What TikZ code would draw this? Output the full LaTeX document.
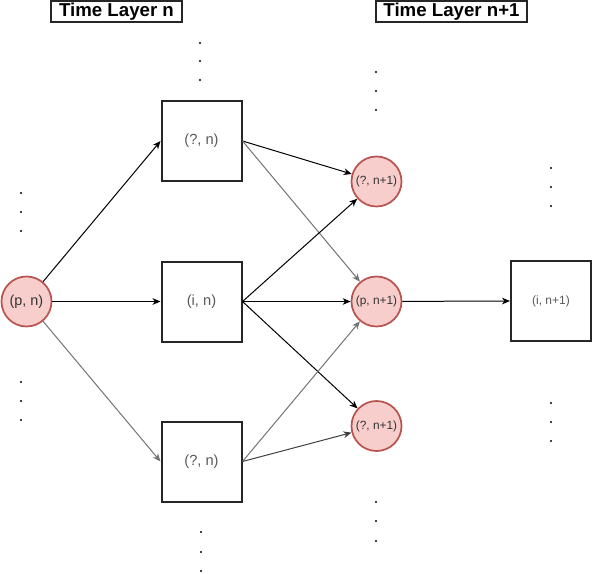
\documentclass[tikz,border=0pt]{standalone}
\usepackage{fontspec}
\setmainfont{Liberation Sans}
\usetikzlibrary{arrows.meta}
\definecolor{cfill}{HTML}{F8CECC}
\definecolor{cdraw}{HTML}{B85450}
\begin{document}
\begin{tikzpicture}[x=0.75pt,y=-0.75pt,
  sq/.style={draw=black!85, line width=1.5pt, minimum size=60pt, inner sep=0pt, text=black!65, font=\fontsize{11}{12}\selectfont},
  sqs/.style={sq, font=\fontsize{9}{10}\selectfont},
  cir/.style={circle, draw=cdraw, fill=cfill, line width=1.3pt, minimum size=37.5pt, inner sep=0pt, text=black!80, font=\fontsize{10.8}{12}\selectfont},
  cirs/.style={cir, font=\fontsize{8.9}{10}\selectfont},
  title/.style={draw=black!85, line width=1.4pt, inner sep=0pt, minimum height=15.75pt, font=\fontsize{14}{15}\selectfont\bfseries},
  e/.style={-{Stealth[length=6pt,width=5pt,inset=1.8pt]}, line width=0.75pt, black},
  eg/.style={e, black!55},
  dotc/.style={fill=black}]
\useasboundingbox (0,0) rectangle (592,574);
\node[title, minimum width=98.25pt] (t1) at (116.5,11.5) {Time Layer n};
\node[title, minimum width=113.25pt] (t2) at (451.5,11.5) {Time Layer n+1};
\node[cir] (pn) at (26.5,301.5) {(p, n)};
\node[sq] (s1) at (201.5,141) {(?, n)};
\node[sq] (s2) at (201.5,301.5) {(i, n)};
\node[sq] (s3) at (201.5,461.5) {(?, n)};
\node[cirs] (c1) at (376.5,181.5) {(?, n+1)};
\node[cirs] (c2) at (376.5,301.5) {(p, n+1)};
\node[cirs] (c3) at (376.5,426) {(?, n+1)};
\node[sqs] (s4) at (551,301) {(i, n+1)};
\draw[e] (pn) -- (s1.west);
\draw[e] (pn) -- (s2.west);
\draw[eg] (pn) -- (s3.west);
\draw[e] (s1.east) -- (c1);
\draw[eg] (s1.east) -- (c2);
\draw[e] (s2.east) -- (c1);
\draw[e] (s2.east) -- (c2);
\draw[e] (s2.east) -- (c3);
\draw[eg] (s3.east) -- (c2);
\draw[e, black!75] (s3.east) -- (c3);
\draw[e] (c2) -- (s4.west);
\foreach \x/\y in {200/43,200/61,200/80,
                   21/193,21/212,21/231,
                   21/382,21/401,21/420,
                   376/72,376/91,376/110,
                   376/502,376/521,376/541,
                   201/532,201/552,201/571,
                   551/168,551/187,551/206,
                   551/403,551/422,551/441}
  \fill[dotc] (\x,\y) circle[radius=0.85pt];
\end{tikzpicture}
\end{document}
